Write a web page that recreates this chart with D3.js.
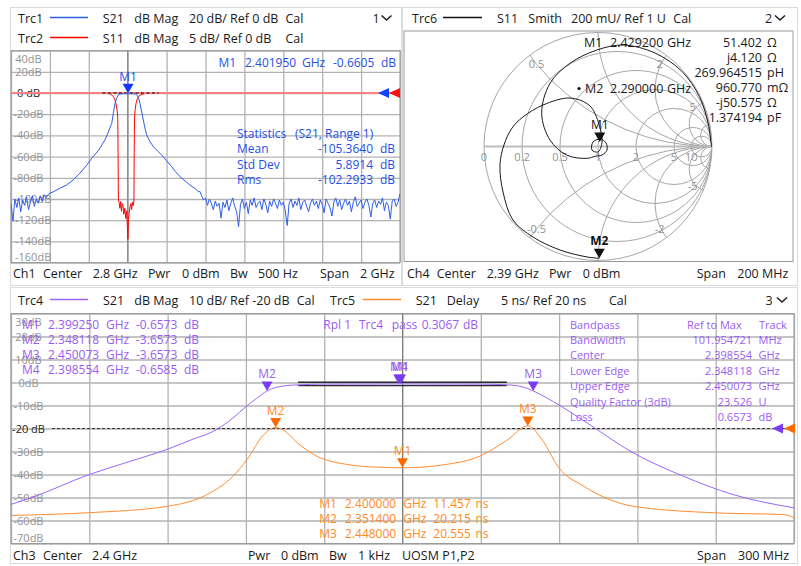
<!DOCTYPE html>
<html><head><meta charset="utf-8">
<script src="https://cdn.jsdelivr.net/npm/d3@7"></script>
<style>
html,body{margin:0;padding:0;background:#fff;}
svg{display:block;font-family:"Open Sans","Noto Sans",sans-serif;}
</style></head><body>
<svg id="c" width="801" height="566"></svg>
<script>
// ---------------- Ch1 : wideband sweep, Trc1 S21 (20 dB/div) + Trc2 S11 (5 dB/div) ----------------
const ch1FreqTicks = [1.8, 2.0, 2.2, 2.4, 2.6, 2.8, 3.0, 3.2, 3.4, 3.6, 3.8];          // GHz
const ch1LevelTicks = [40, 20, 0, -20, -40, -60, -80, -100, -120, -140, -160];         // dB (Trc1 scale)
// S21 noise floor below the filter, 1.80–1.99 GHz in 10 MHz steps
const s21NoiseLow = [-104, -121, -100, -108, -99, -112, -101, -106, -98, -110,
                     -103, -97, -107, -100, -104, -97, -102, -96, -99, -96];
// S21 skirts and passband [GHz, dB]
const s21Filter = [[2.00, -94.5], [2.02, -93], [2.05, -90], [2.086, -86.8], [2.12, -82], [2.155, -75.5],
  [2.19, -68], [2.215, -61.6], [2.25, -54], [2.283, -44.3], [2.30, -37], [2.318, -28.6], [2.326, -19.2],
  [2.335, -9.7], [2.343, -5], [2.35, -2.2], [2.36, -1.0], [2.38, -0.7], [2.40195, -0.6605], [2.42, -0.7],
  [2.44, -1.0], [2.45, -2.4], [2.457, -5.5], [2.463, -9.7], [2.47, -16], [2.48, -25.5], [2.49, -34],
  [2.498, -39.9], [2.515, -46], [2.532, -50.6], [2.555, -55], [2.575, -58.5], [2.60, -64], [2.626, -69.5],
  [2.645, -74], [2.669, -79], [2.695, -83], [2.72, -86.8], [2.745, -90], [2.763, -93], [2.772, -93]];
// S21 noise floor above the filter, 2.78–3.80 GHz in 10 MHz steps
const s21NoiseHigh = [-97, -101, -99, -106, -100, -104, -110, -102, -107, -104, -118, -103, -108, -101,
  -111, -104, -99, -107, -112, -126, -105, -100, -109, -103, -114, -101, -106, -99, -108, -104, -102,
  -110, -100, -105, -113, -102, -107, -100, -104, -109, -101, -106, -103, -111, -125, -104, -100, -108,
  -102, -106, -99, -110, -103, -101, -107, -112, -104, -100, -106, -102, -109, -101, -105, -113, -100,
  -104, -108, -116, -103, -99, -107, -101, -110, -104, -100, -106, -102, -112, -103, -98, -107, -104,
  -101, -109, -103, -100, -106, -117, -104, -101, -108, -102, -105, -99, -111, -103, -106, -119, -102,
  -100, -107, -103, -95];
// S11 [GHz, dB]
const s11Trace = [[1.80, 0], [2.28, 0], [2.31, -0.2], [2.326, -0.8], [2.334, -1.6], [2.340, -2.6],
  [2.346, -4.2], [2.349, -6], [2.3505, -14], [2.352, -25.3], [2.356, -25.8], [2.36, -27.2], [2.364, -25.6],
  [2.368, -27.9], [2.372, -26.1], [2.376, -26.6], [2.38, -28.6], [2.385, -27.2], [2.39, -29.6],
  [2.395, -27.8], [2.398, -31.2], [2.401, -34.5], [2.404, -29.8], [2.408, -28.2], [2.412, -26.9],
  [2.416, -26.1], [2.42, -27.5], [2.424, -25.8], [2.428, -26.6], [2.432, -25.3], [2.4335, -14],
  [2.435, -6], [2.438, -4], [2.443, -2.4], [2.45, -1.3], [2.46, -0.6], [2.48, -0.2], [2.52, 0], [3.80, 0]];
const ch1RefLevel = 0;
const ch1Marker = {name: "M1", f: 2.401950, v: -0.6605};
const ch1RangeLine = [2.27, 2.56];
const ch1Stats = [["Mean", "-105.3640", "dB"], ["Std Dev", "5.8914", "dB"], ["Rms", "-102.2933", "dB"]];

// ---------------- Ch4 : Trc6 S11 Smith ----------------
const smithR = [0.2, 0.5, 1, 2, 5, 10];
const smithX = [0.5, 1, 2, 5, 10];
const smithXLabels = [0.5, 2, 5, -0.5, -2, -5];
const smithRLabels = [0, 0.2, 0.5, 1, 2, 5, 10];
// reflection coefficient along the sweep 2.29 → 2.49 GHz
const gammaRe = [0.011, -0.096, -0.333, -0.570, -0.746, -0.833, -0.860, -0.825, -0.754, -0.658, -0.482,
  -0.246, -0.070, 0.018, 0.035, 0.000, -0.053, -0.044, 0.018, 0.070, 0.079, 0.035, -0.020, -0.099,
  -0.275, -0.421, -0.494, -0.421, -0.246, -0.011, 0.222, 0.500, 0.735, 0.890, 0.966, 0.995];
const gammaIm = [-0.981, -0.969, -0.908, -0.794, -0.645, -0.399, -0.162, 0.013, 0.162, 0.259, 0.364,
  0.425, 0.355, 0.162, 0.031, -0.048, -0.031, 0.039, 0.066, 0.031, -0.031, -0.075, -0.085, -0.104,
  -0.075, 0.057, 0.291, 0.554, 0.730, 0.846, 0.890, 0.820, 0.660, 0.437, 0.204, -0.002];
const smithMarkers = [{name: "M1", re: 0.0155, im: 0.040}, {name: "M2", re: 0.0114, im: -0.981}];
const smithReadout = [["51.402", "Ω"], ["j4.120", "Ω"], ["269.964515", "pH"],
                      ["960.770", "mΩ"], ["-j50.575", "Ω"], ["1.374194", "pF"]];

// ---------------- Ch3 : Trc4 S21 dB Mag (10 dB/div) + Trc5 S21 Delay (5 ns/div) ----------------
const ch3FreqTicks = [2.25, 2.28, 2.31, 2.34, 2.37, 2.40, 2.43, 2.46, 2.49, 2.52, 2.55];
const ch3LevelTicks = [30, 20, 10, 0, -10, -20, -30, -40, -50, -60, -70];
const trc4Mag = [[2.25, -53], [2.258, -50], [2.28, -40], [2.295, -34.5], [2.31, -29], [2.32, -24.5],
  [2.327, -21.5], [2.335, -15.5], [2.34, -10.5], [2.344, -7], [2.348118, -3.6573], [2.353, -1.8],
  [2.36, -1.0], [2.37, -0.72], [2.39925, -0.6573], [2.43, -0.72], [2.44, -1.0], [2.446, -1.9],
  [2.450073, -3.6573], [2.455, -6.5], [2.46, -9.8], [2.4706, -17.5], [2.4884, -30.6], [2.5075, -40.7],
  [2.5266, -48.7], [2.55, -54.5]];
const trc5Delay = [[2.25, 1.1], [2.28, 1.7], [2.31, 3.1], [2.325, 5.6], [2.335, 9.6], [2.3405, 13.3],
  [2.3467, 18.6], [2.3514, 20.215], [2.3555, 19.2], [2.3595, 17.0], [2.3671, 14.0], [2.3786, 12.2],
  [2.39, 11.6], [2.40, 11.457], [2.4169, 12.2], [2.4297, 14.0], [2.4399, 17.4], [2.448, 20.555],
  [2.4539, 17.2], [2.4597, 11.6], [2.4693, 7.5], [2.4884, 3.1], [2.5204, 1.65], [2.5458, 1.3], [2.55, 0.6]];
const trc4Markers = [{name: "M1", f: 2.399250, v: -0.6573}, {name: "M2", f: 2.348118, v: -3.6573},
                     {name: "M3", f: 2.450073, v: -3.6573}, {name: "M4", f: 2.398554, v: -0.6585}];
const trc5Markers = [{name: "M1", f: 2.400000, v: 11.457}, {name: "M2", f: 2.351400, v: 20.215},
                     {name: "M3", f: 2.448000, v: 20.555}];
const rippleRange = [2.36, 2.44];
const rippleLimits = [0.1, -1.4];
const bandpassRows = [["Bandwidth", "101.954721", "MHz"], ["Center", "2.398554", "GHz"],
  ["Lower Edge", "2.348118", "GHz"], ["Upper Edge", "2.450073", "GHz"],
  ["Quality Factor (3dB)", "23.526", "U"], ["Loss", "0.6573", "dB"]];

// ---------------- drawing ----------------
const svg = d3.select("#c");
const GRID = "#b2b2b2", BOX = "#9a9a9a", LBL = "#929292";
const BLUE = "#2f5de8", BLUE_T = "#1f4fe6", RED = "#ff0000";
const PURPLE = "#9a66ff", PURPLE_T = "#9a5cf2", PURPLE_M = "#7a3cf0";
const ORANGE = "#ff8c33", ORANGE_T = "#ff8a24", ORANGE_M = "#ff6a00";
const defs = svg.append("defs");

function txt(g, x, y, s, o = {}) {
  return g.append("text").attr("x", x).attr("y", y).text(s)
    .attr("font-size", o.size || 12).attr("fill", o.fill || "#1a1a1a")
    .attr("text-anchor", o.anchor || "start").attr("font-weight", o.weight || null);
}
function chevron(g, x, y) {
  g.append("path").attr("d", `M${x},${y} L${x + 5},${y + 4.5} L${x + 10},${y}`)
    .attr("fill", "none").attr("stroke", "#222").attr("stroke-width", 1.6);
}
function downTri(g, x, y, c) {
  g.append("path").attr("d", `M${x - 5.5},${y - 9.5} L${x + 5.5},${y - 9.5} L${x},${y} Z`).attr("fill", c);
}
function leftTri(g, x, y, c) {
  g.append("path").attr("d", `M${x},${y} L${x + 11},${y - 5} L${x + 11},${y + 5} Z`).attr("fill", c);
}
function clipRect(id, b) {
  defs.append("clipPath").attr("id", id).append("rect")
    .attr("x", b.x0).attr("y", b.y0).attr("width", b.x1 - b.x0).attr("height", b.y1 - b.y0);
}
function gridAxes(g, x, y, xt, yt, b) {
  g.append("g").attr("transform", `translate(0,${b.y1})`)
    .call(d3.axisBottom(x).tickValues(xt).tickSize(-(b.y1 - b.y0)).tickFormat(""))
    .call(a => a.select(".domain").remove())
    .call(a => a.selectAll("line").attr("stroke", GRID).attr("stroke-width", 1.3));
  g.append("g").attr("transform", `translate(${b.x0},0)`)
    .call(d3.axisLeft(y).tickValues(yt).tickSize(-(b.x1 - b.x0)).tickFormat(""))
    .call(a => a.select(".domain").remove())
    .call(a => a.selectAll("line").attr("stroke", GRID).attr("stroke-width", 1.3));
  g.append("rect").attr("x", b.x0).attr("y", b.y0).attr("width", b.x1 - b.x0).attr("height", b.y1 - b.y0)
    .attr("fill", "none").attr("stroke", BOX).attr("stroke-width", 1);
}
function levelLabels(g, y, ticks, refVal, b) {
  ticks.forEach(v => {
    const yy = Math.max(b.y0 + 8, Math.min(b.y1 - 6, y(v)));
    const ref = v === refVal;
    const t = txt(g, 0, yy + 4, ref ? `${v} dB` : `${v}dB`, {size: 11, fill: ref ? "#222" : LBL});
    const w = t.node().getComputedTextLength();
    t.attr("x", w > 33 ? 15 : 28.5 - w / 2);
  });
}

// panel frames
[[10.5, 7.5, 391, 278], [402.5, 7.5, 395, 278], [10.5, 287.5, 787, 276]].forEach(r =>
  svg.append("rect").attr("x", r[0]).attr("y", r[1]).attr("width", r[2]).attr("height", r[3])
    .attr("fill", "none").attr("stroke", "#dcdcdc"));

// ===== Ch1 panel =====
const b1 = {x0: 11, x1: 400, y0: 50.6, y1: 262.6};
const x1s = d3.scaleLinear().domain([1.8, 3.8]).range([b1.x0, b1.x1]);
const yTrc1 = d3.scaleLinear().domain([-160, 40]).range([b1.y1, b1.y0]);
const yTrc2 = d3.scaleLinear().domain([-40, 10]).range([b1.y1, b1.y0]);
clipRect("clip1", b1);
const g1 = svg.append("g");
gridAxes(g1, x1s, yTrc1, ch1FreqTicks, ch1LevelTicks, b1);
g1.append("line").attr("x1", x1s(2.4)).attr("x2", x1s(2.4)).attr("y1", b1.y0).attr("y2", b1.y1)
  .attr("stroke", "#7d7d7d").attr("stroke-width", 1);
levelLabels(g1, yTrc1, ch1LevelTicks, ch1RefLevel, b1);

const s21Pts = [];
s21NoiseLow.forEach((v, i) => s21Pts.push([1.80 + i * 0.01, v]));
s21Filter.forEach(p => s21Pts.push(p));
s21NoiseHigh.forEach((v, i) => s21Pts.push([2.78 + i * 0.01, v]));
const tr1 = g1.append("g").attr("clip-path", "url(#clip1)");
tr1.append("path").datum(s11Trace)
  .attr("d", d3.line().x(d => x1s(d[0])).y(d => yTrc2(d[1])))
  .attr("fill", "none").attr("stroke", RED).attr("stroke-width", 1);
// reference level line of Trc2
tr1.append("line").attr("x1", b1.x0).attr("x2", b1.x1).attr("y1", yTrc2(ch1RefLevel)).attr("y2", yTrc2(ch1RefLevel))
  .attr("stroke", "#ff8080").attr("stroke-width", 2);
tr1.append("line").attr("x1", x1s(ch1RangeLine[0])).attr("x2", x1s(ch1RangeLine[1]))
  .attr("y1", yTrc1(0)).attr("y2", yTrc1(0))
  .attr("stroke", "#5a2a2a").attr("stroke-width", 1.3).attr("stroke-dasharray", "3,2.5");
tr1.append("path").datum(s21Pts)
  .attr("d", d3.line().x(d => x1s(d[0])).y(d => yTrc1(d[1])))
  .attr("fill", "none").attr("stroke", BLUE).attr("stroke-width", 1);
leftTri(g1, 378, yTrc1(0), "#1240ff");
leftTri(g1, 389, yTrc1(0), "#ff1010");
downTri(g1, x1s(ch1Marker.f), yTrc1(ch1Marker.v) - 0.5, "#1238ff");
txt(g1, x1s(ch1Marker.f), yTrc1(ch1Marker.v) - 13, ch1Marker.name, {size: 12, fill: BLUE_T, anchor: "middle"});

// header
const h1 = svg.append("g");
[[22.5, "Trc1", BLUE, "S21", "20 dB/ Ref 0 dB"], [42.5, "Trc2", RED, "S11", "5 dB/ Ref 0 dB"]].forEach(r => {
  txt(h1, 18, r[0], r[1], {size: 12.5});
  h1.append("line").attr("x1", 50).attr("x2", 88).attr("y1", r[0] - 5).attr("y2", r[0] - 5)
    .attr("stroke", r[2]).attr("stroke-width", 1.5);
  txt(h1, 102.7, r[0], r[3], {size: 12.5});
  txt(h1, 134.3, r[0], "dB Mag", {size: 12.5});
  txt(h1, 189, r[0], r[4], {size: 12.5});
  txt(h1, 285.5, r[0], "Cal", {size: 12.5});
});
txt(h1, 372.5, 22.5, "1", {size: 12.5});
chevron(h1, 381.5, 15.5);

// marker readout and statistics
[[218.5, "M1"], [245, "2.401950"], [302, "GHz"], [333, "-0.6605"], [381, "dB"]]
  .forEach(p => txt(g1, p[0], 66.5, p[1], {size: 12, fill: BLUE_T}));
txt(g1, 237, 137.5, "Statistics", {size: 12, fill: BLUE_T});
txt(g1, 295, 137.5, "(S21, Range 1)", {size: 12, fill: BLUE_T});
ch1Stats.forEach((r, i) => {
  const yy = 153 + i * 15.5;
  txt(g1, 237, yy, r[0], {size: 12, fill: BLUE_T});
  txt(g1, 373, yy, r[1], {size: 12, fill: BLUE_T, anchor: "end"});
  txt(g1, 380, yy, r[2], {size: 12, fill: BLUE_T});
});
[[13, "Ch1"], [43, "Center"], [92.7, "2.8 GHz"], [148, "Pwr"], [182, "0 dBm"], [230, "Bw"],
 [258, "500 Hz"], [320, "Span"], [360, "2 GHz"]].forEach(p => txt(svg, p[0], 277.5, p[1], {size: 12.5}));

// ===== Ch4 Smith panel =====
const b4 = {x0: 404, x1: 793, y0: 31, y1: 261.5};
const cx = 598, cy = 146.5, R = 114;
const sx = d3.scaleLinear().domain([-1, 1]).range([cx - R, cx + R]);
const sy = d3.scaleLinear().domain([-1, 1]).range([cy + R, cy - R]);
svg.append("rect").attr("x", b4.x0).attr("y", b4.y0).attr("width", b4.x1 - b4.x0).attr("height", b4.y1 - b4.y0)
  .attr("fill", "none").attr("stroke", BOX);
defs.append("clipPath").attr("id", "unit").append("circle").attr("cx", cx).attr("cy", cy).attr("r", R);
const g4 = svg.append("g");
const sg = g4.append("g").attr("clip-path", "url(#unit)");
smithR.forEach(r => sg.append("circle").attr("cx", sx(r / (1 + r))).attr("cy", cy)
  .attr("r", R / (1 + r)).attr("fill", "none").attr("stroke", "#a6a6a6").attr("stroke-width", 1));
smithX.forEach(x => [1, -1].forEach(s => sg.append("circle").attr("cx", sx(1)).attr("cy", sy(s / x))
  .attr("r", R / x).attr("fill", "none").attr("stroke", "#a6a6a6").attr("stroke-width", 1)));
g4.append("circle").attr("cx", cx).attr("cy", cy).attr("r", R).attr("fill", "none")
  .attr("stroke", "#a6a6a6").attr("stroke-width", 1);
g4.append("line").attr("x1", sx(-1)).attr("x2", sx(1)).attr("y1", cy).attr("y2", cy)
  .attr("stroke", "#bdbdbd").attr("stroke-width", 2);
smithRLabels.forEach(r => txt(g4, sx((r - 1) / (r + 1)), cy + 14.5, String(r),
  {size: 11, fill: LBL, anchor: "middle"}));
smithXLabels.forEach(x => {
  const d = x * x + 1, gr = (x * x - 1) / d, gi = 2 * x / d, k = 0.9;
  txt(g4, sx(gr * k), sy(gi * k) + 4, String(x), {size: 11, fill: LBL, anchor: "middle"});
});
const gammaPts = gammaRe.map((re, i) => [re, gammaIm[i]]);
g4.append("path").datum(gammaPts)
  .attr("d", d3.line().x(d => sx(d[0])).y(d => sy(d[1])).curve(d3.curveCatmullRom.alpha(0.5)))
  .attr("fill", "none").attr("stroke", "#1a1a1a").attr("stroke-width", 1);
smithMarkers.forEach(m => {
  downTri(g4, sx(m.re), sy(m.im), "#111");
  txt(g4, sx(m.re), sy(m.im) - 13, m.name, {size: 12, fill: "#111", anchor: "middle", weight: m.name === "M2" ? 700 : null});
});
[[584, "M1"], [610, "2.429200"], [667, "GHz"]].forEach(p => txt(g4, p[0], 46.5, p[1], {size: 12.5}));
g4.append("circle").attr("cx", 579).attr("cy", 88.5).attr("r", 1.6).attr("fill", "#111");
[[585, "M2"], [610, "2.290000"], [667, "GHz"]].forEach(p => txt(g4, p[0], 92.5, p[1], {size: 12.5}));
smithReadout.forEach((r, i) => {
  const yy = 46.5 + i * 15;
  txt(g4, 762, yy, r[0], {size: 12.5, anchor: "end"});
  txt(g4, 767, yy, r[1], {size: 12.5});
});
const h4 = svg.append("g");
txt(h4, 412, 22.5, "Trc6", {size: 12.5});
h4.append("line").attr("x1", 443).attr("x2", 482).attr("y1", 17.5).attr("y2", 17.5).attr("stroke", "#111").attr("stroke-width", 1.5);
[[497, "S11"], [528.3, "Smith"], [571, "200 mU/ Ref 1 U"], [673.3, "Cal"], [765, "2"]]
  .forEach(p => txt(h4, p[0], 22.5, p[1], {size: 12.5}));
chevron(h4, 775, 15.5);
[[407, "Ch4"], [436.7, "Center"], [486.7, "2.39 GHz"], [549, "Pwr"], [582.7, "0 dBm"], [696.7, "Span"],
 [737.3, "200 MHz"]].forEach(p => txt(svg, p[0], 277.5, p[1], {size: 12.5}));

// ===== Ch3 panel =====
const b3 = {x0: 11, x1: 794, y0: 313.5, y1: 543.5};
const x3s = d3.scaleLinear().domain([2.25, 2.55]).range([b3.x0, b3.x1]);
const yMag = d3.scaleLinear().domain([-70, 30]).range([b3.y1, b3.y0]);
const yDel = d3.scaleLinear().domain([-5, 45]).range([b3.y1, b3.y0]);
clipRect("clip3", b3);
const g3 = svg.append("g");
gridAxes(g3, x3s, yMag, ch3FreqTicks, ch3LevelTicks, b3);
g3.append("line").attr("x1", x3s(2.4)).attr("x2", x3s(2.4)).attr("y1", b3.y0).attr("y2", b3.y1)
  .attr("stroke", "#7d7d7d").attr("stroke-width", 1);
levelLabels(g3, yMag, ch3LevelTicks, -20, b3);
g3.append("line").attr("x1", 52).attr("x2", b3.x1).attr("y1", yMag(-20)).attr("y2", yMag(-20))
  .attr("stroke", "#333").attr("stroke-width", 1).attr("stroke-dasharray", "3,2");

// bandpass table and marker readouts (drawn under the traces)
const TS = 11;
txt(g3, 570, 328.5, "Bandpass", {size: TS, fill: PURPLE_T});
txt(g3, 687, 328.5, "Ref to Max", {size: TS, fill: PURPLE_T});
txt(g3, 759, 328.5, "Track", {size: TS, fill: PURPLE_T});
bandpassRows.forEach((r, i) => {
  const yy = 328.5 + (i + 1) * 15.4;
  txt(g3, 570, yy, r[0], {size: TS, fill: PURPLE_T});
  txt(g3, 752, yy, r[1], {size: TS, fill: PURPLE_T, anchor: "end"});
  txt(g3, 758.5, yy, r[2], {size: TS, fill: PURPLE_T});
});
trc4Markers.forEach((m, i) => {
  const yy = 328.5 + i * 15;
  [[22, m.name], [48, m.f.toFixed(6)], [106, "GHz"], [136, m.v.toFixed(4)], [184, "dB"]]
    .forEach(p => txt(g3, p[0], yy, p[1], {size: 12, fill: PURPLE_T}));
});
[[323.3, "Rpl 1"], [359, "Trc4"], [391.7, "pass"], [421.7, "0.3067"], [463, "dB"]]
  .forEach(p => txt(g3, p[0], 328.5, p[1], {size: 12, fill: PURPLE_T}));
trc5Markers.forEach((m, i) => {
  const yy = 507.5 + i * 15.3;
  [[319.3, m.name], [345, m.f.toFixed(6)], [403.3, "GHz"], [433.3, m.v.toFixed(3)], [475.5, "ns"]]
    .forEach(p => txt(g3, p[0], yy, p[1], {size: 12, fill: ORANGE_T}));
});

const tr3 = g3.append("g").attr("clip-path", "url(#clip3)");
rippleLimits.forEach(v => tr3.append("line").attr("x1", x3s(rippleRange[0])).attr("x2", x3s(rippleRange[1]))
  .attr("y1", yMag(v)).attr("y2", yMag(v)).attr("stroke", "#2a2a2a").attr("stroke-width", 1.3));
tr3.append("path").datum(trc5Delay)
  .attr("d", d3.line().x(d => x3s(d[0])).y(d => yDel(d[1])).curve(d3.curveMonotoneX))
  .attr("fill", "none").attr("stroke", ORANGE).attr("stroke-width", 1);
tr3.append("path").datum(trc4Mag)
  .attr("d", d3.line().x(d => x3s(d[0])).y(d => yMag(d[1])).curve(d3.curveMonotoneX))
  .attr("fill", "none").attr("stroke", PURPLE).attr("stroke-width", 1);
leftTri(g3, 772, yMag(-20), PURPLE_M);
leftTri(g3, 784, yMag(-20), ORANGE_M);
trc5Markers.forEach(m => {
  downTri(g3, x3s(m.f), yDel(m.v), ORANGE_M);
  txt(g3, x3s(m.f), yDel(m.v) - 13, m.name, {size: 12, fill: ORANGE_T, anchor: "middle"});
});
trc4Markers.forEach(m => {
  downTri(g3, x3s(m.f), yMag(m.v), PURPLE_M);
  txt(g3, x3s(m.f), yMag(m.v) - 13, m.name, {size: 12, fill: PURPLE_T, anchor: "middle"});
});

const h3 = svg.append("g");
txt(h3, 18, 304.5, "Trc4", {size: 12.5});
h3.append("line").attr("x1", 50).attr("x2", 88).attr("y1", 299.5).attr("y2", 299.5).attr("stroke", PURPLE).attr("stroke-width", 1.5);
[[103, "S21"], [134.3, "dB Mag"], [189, "10 dB/ Ref -20 dB"], [296.7, "Cal"], [330, "Trc5"]]
  .forEach(p => txt(h3, p[0], 304.5, p[1], {size: 12.5}));
h3.append("line").attr("x1", 362.7).attr("x2", 401).attr("y1", 299.5).attr("y2", 299.5).attr("stroke", ORANGE).attr("stroke-width", 1.5);
[[415.7, "S21"], [446.7, "Delay"], [501, "5 ns/ Ref 20 ns"], [609, "Cal"], [765.5, "3"]]
  .forEach(p => txt(h3, p[0], 304.5, p[1], {size: 12.5}));
chevron(h3, 777, 297.5);
[[13, "Ch3"], [43, "Center"], [92, "2.4 GHz"], [248, "Pwr"], [281, "0 dBm"], [329, "Bw"], [358, "1 kHz"],
 [402, "UOSM P1,P2"], [697, "Span"], [738, "300 MHz"]].forEach(p => txt(svg, p[0], 559.5, p[1], {size: 12.5}));
</script>
</body></html>
